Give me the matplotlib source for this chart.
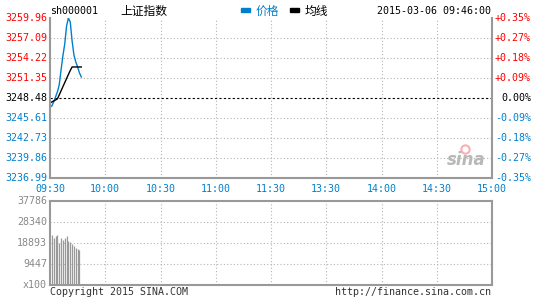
import matplotlib
matplotlib.use("Agg")
import matplotlib.pyplot as plt
import matplotlib.transforms as mtransforms

plt.rcParams['font.family'] = ['DejaVu Sans Mono', 'Noto Sans CJK SC']

# ---- data ----
symbol = "sh000001"
name = "上证指数"
stamp = "2015-03-06 09:46:00"
prev_close = 3248.48

minutes = list(range(18))
price = [3247.19, 3247.33, 3247.91, 3248.62, 3249.34, 3250.35, 3252.50, 3254.51,
         3256.23, 3258.81, 3259.96, 3259.39, 3256.66, 3254.65, 3253.65, 3252.93,
         3252.07, 3251.49]
avg = [3247.76, 3247.91, 3248.05, 3248.19, 3248.34, 3248.91, 3249.50, 3250.10,
       3250.68, 3251.27, 3251.85, 3252.43, 3252.93, 3252.93, 3252.93, 3252.93,
       3252.93, 3252.93]

vol_minutes = list(range(1, 17))
volume = [22490, 21280, 22040, 22490, 18890, 21000, 20100, 21000,
          21900, 19800, 19200, 18300, 17700, 16800, 16200, 15800]

time_ticks = [0, 30, 60, 90, 120, 150, 180, 210, 240]
time_labels = ["09:30", "10:00", "10:30", "11:00", "11:30", "13:30", "14:00", "14:30", "15:00"]

price_ticks = [3259.96, 3257.09, 3254.22, 3251.35, 3248.48, 3245.61, 3242.73, 3239.86, 3236.99]
price_labels = ["3259.96", "3257.09", "3254.22", "3251.35", "3248.48", "3245.61", "3242.73", "3239.86", "3236.99"]
pct_labels = ["+0.35%", "+0.27%", "+0.18%", "+0.09%", "0.00%", "-0.09%", "-0.18%", "-0.27%", "-0.35%"]

vol_ticks = [37786, 28340, 18893, 9447, 0]
vol_labels = ["37786", "28340", "18893", "9447", "x100"]

RED = "#ff0000"
BLUE = "#0080cc"
GRID = "#b4b4b4"
FRAME = "#999999"
FS = 7.2

fig = plt.figure(figsize=(5.45, 3.0), dpi=100)
W, H = 545.0, 300.0

def box(x0, y0, x1, y1):
    return [x0 / W, 1 - y1 / H, (x1 - x0) / W, (y1 - y0) / H]

ax = fig.add_axes(box(50, 18, 492, 178))
axv = fig.add_axes(box(50, 201, 492, 285))

# ---- price panel ----
ax.set_xlim(0, 240)
ax.set_ylim(price_ticks[-1], price_ticks[0])
for t in time_ticks[1:-1]:
    ax.axvline(t, color=GRID, lw=0.8, ls=(0, (1, 2)))
for p in price_ticks[1:-1]:
    if p == prev_close:
        continue
    ax.axhline(p, color=GRID, lw=0.8, ls=(0, (1, 2)))
ax.axhline(prev_close, color="black", lw=0.8, ls=(0, (2, 2)))

ax.plot(minutes, price, color=BLUE, lw=1.0)
ax.plot(minutes, avg, color="black", lw=1.0)

ax.spines["top"].set_visible(False)
for s in ["left", "right", "bottom"]:
    ax.spines[s].set_color(FRAME)
    ax.spines[s].set_linewidth(1.5)
ax.set_xticks([])
ax.set_yticks([])

trans = mtransforms.blended_transform_factory(fig.transFigure, ax.transData)
for p, lab, pc in zip(price_ticks, price_labels, pct_labels):
    if p > prev_close:
        c = RED
    elif p < prev_close:
        c = BLUE
    else:
        c = "black"
    ax.text(47 / W, p, lab, transform=trans, ha="right", va="center", color=c, fontsize=FS)
    ax.text(531 / W, p, pc, transform=trans, ha="right", va="center", color=c, fontsize=FS)

tx = mtransforms.blended_transform_factory(ax.transData, fig.transFigure)
for t, lab in zip(time_ticks, time_labels):
    ax.text(t, 1 - 188.5 / H, lab, transform=tx, ha="center", va="center", color=BLUE, fontsize=FS)

# sina watermark
ax.text(0.985, 0.11, "sina", transform=ax.transAxes, ha="right", va="center",
        fontsize=12, fontstyle="italic", fontweight="bold", color="#b8b8b8",
        family="DejaVu Sans")
ax.plot([0.94], [0.18], marker="o", ms=6, mfc="none", mec="#f6b0b6", mew=1.5,
        transform=ax.transAxes)

# ---- volume panel ----
axv.set_xlim(0, 240)
axv.set_ylim(0, vol_ticks[0])
for t in time_ticks[1:-1]:
    axv.axvline(t, color=GRID, lw=0.8, ls=(0, (1, 2)))
for v in vol_ticks[1:-1]:
    axv.axhline(v, color=GRID, lw=0.8, ls=(0, (1, 2)))
axv.vlines(vol_minutes, 0, volume, color=FRAME, lw=0.9)
for s in axv.spines.values():
    s.set_color(FRAME)
    s.set_linewidth(1.5)
axv.set_xticks([])
axv.set_yticks([])
transv = mtransforms.blended_transform_factory(fig.transFigure, axv.transData)
for v, lab in zip(vol_ticks, vol_labels):
    axv.text(47 / W, v, lab, transform=transv, ha="right", va="center", color="#888888", fontsize=FS)

# ---- header / footer ----
hy = 1 - 11.5 / H
fig.text(50 / W, hy, symbol, ha="left", va="center", fontsize=FS, color="black")
fig.text(120 / W, hy, name, ha="left", va="center", fontsize=8.5, color="black",
         family=["Noto Sans CJK SC", "DejaVu Sans"])
fig.patches.append(plt.Rectangle((241 / W, 1 - 11.5 / H), 9 / W, 3 / H, transform=fig.transFigure, color=BLUE))
fig.text(256 / W, hy, "价格", ha="left", va="center", fontsize=8.5, color=BLUE,
         family=["Noto Sans CJK SC", "DejaVu Sans"])
fig.patches.append(plt.Rectangle((290 / W, 1 - 11.5 / H), 9 / W, 3 / H, transform=fig.transFigure, color="black"))
fig.text(305 / W, hy, "均线", ha="left", va="center", fontsize=8.5, color="black",
         family=["Noto Sans CJK SC", "DejaVu Sans"])
fig.text(491 / W, hy, stamp, ha="right", va="center", fontsize=FS, color="black")

fy = 1 - 292 / H
fig.text(50 / W, fy, "Copyright 2015 SINA.COM", ha="left", va="center", fontsize=FS, color="#333333")
fig.text(491 / W, fy, "http://finance.sina.com.cn", ha="right", va="center", fontsize=FS, color="#333333")

fig.savefig("out.png", dpi=100)
